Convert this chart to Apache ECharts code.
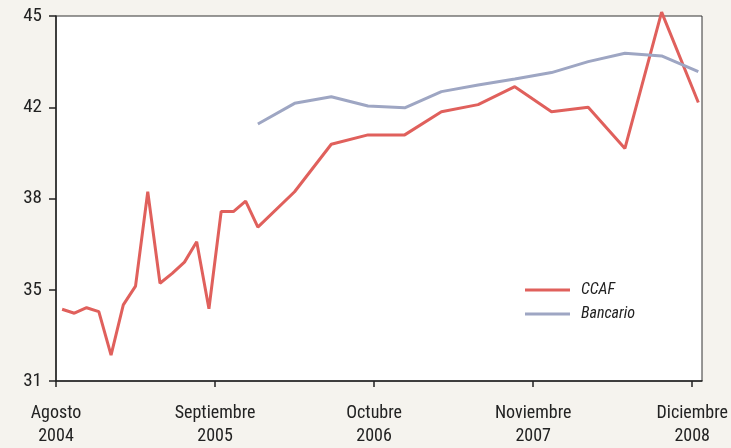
<!DOCTYPE html>
<html lang="es">
<head>
    <meta charset="UTF-8">
    <title>CCAF vs Bancario</title>
    <script src="https://cdn.jsdelivr.net/npm/echarts@6/dist/echarts.min.js"></script>
    <style>
        html, body { margin: 0; padding: 0; background: #f5f3ee; }
    </style>
</head>
<body>
<div id="main" style="width: 731px;height:448px;"></div>
<script>
    // meses contados desde agosto 2004 (punto a mitad de mes)
    var tickMonths = [0, 13, 26, 39, 52];
    var tickLabels = ['Agosto\n2004', 'Septiembre\n2005', 'Octubre\n2006', 'Noviembre\n2007', 'Diciembre\n2008'];

    var ccafMonths = [0.5, 1.5, 2.5, 3.5, 4.5, 5.5, 6.5, 7.5, 8.5, 9.5, 10.5, 11.5, 12.5, 13.5, 14.5, 15.5, 16.5,
        19.5, 22.5, 25.5, 28.5, 31.5, 34.5, 37.5, 40.5, 43.5, 46.5, 49.5, 52.5];
    var ccafValues = [33.75, 33.6, 33.81, 33.66, 31.99, 33.92, 34.64, 38.26, 34.75, 35.13, 35.56, 36.34, 33.77, 37.5, 37.5, 37.9, 36.9,
        38.26, 40.08, 40.44, 40.44, 41.33, 41.6, 42.29, 41.33, 41.5, 39.92, 45.15, 41.68];

    var bancarioMonths = [16.5, 19.5, 22.5, 25.5, 28.5, 31.5, 34.5, 37.5, 40.5, 43.5, 46.5, 49.5, 52.5];
    var bancarioValues = [40.86, 41.65, 41.9, 41.55, 41.48, 42.1, 42.35, 42.58, 42.83, 43.25, 43.57, 43.47, 42.87];

    function pairs(xs, ys) {
        var out = [];
        for (var i = 0; i < xs.length; i++) {
            out.push([xs[i], ys[i]]);
        }
        return out;
    }

    var myChart = echarts.init(document.getElementById('main'));
    var font = '"Liberation Sans Narrow", "Roboto Condensed", "Open Sans", sans-serif';

    myChart.setOption({
        animation: false,
        backgroundColor: '#f5f3ee',
        grid: {
            left: 56,
            right: 29,
            top: 16,
            bottom: 67,
            show: true,
            backgroundColor: '#ffffff',
            borderColor: '#333',
            borderWidth: 1
        },
        legend: {
            orient: 'vertical',
            left: 520,
            top: 277,
            itemWidth: 45,
            itemHeight: 3,
            itemGap: 8,
            icon: 'rect',
            textStyle: {
                fontFamily: font,
                fontStyle: 'italic',
                fontSize: 16,
                color: '#222',
                padding: [0, 0, 0, 6]
            },
            data: ['CCAF', 'Bancario']
        },
        xAxis: {
            type: 'value',
            min: 0,
            max: 52.8,
            splitLine: { show: false },
            axisLine: { lineStyle: { color: '#222', width: 1.5 } },
            axisTick: {
                show: true,
                length: 6,
                customValues: tickMonths,
                lineStyle: { color: '#222', width: 1.5 }
            },
            axisLabel: {
                customValues: tickMonths,
                margin: 21,
                fontFamily: font,
                fontSize: 18,
                lineHeight: 23,
                color: '#222',
                formatter: function (v) {
                    var i = tickMonths.indexOf(v);
                    return i >= 0 ? tickLabels[i] : '';
                }
            }
        },
        yAxis: {
            type: 'value',
            min: 31,
            max: 45,
            interval: 3.5,
            splitLine: { show: false },
            axisLine: { show: true, lineStyle: { color: '#222', width: 1.5 } },
            axisTick: { show: true, length: 7, lineStyle: { color: '#222', width: 1.5 } },
            axisLabel: {
                margin: 14,
                fontFamily: font,
                fontSize: 19,
                color: '#222',
                formatter: function (v) {
                    return String(Math.round(v));
                }
            }
        },
        series: [
            {
                name: 'CCAF',
                type: 'line',
                data: pairs(ccafMonths, ccafValues),
                showSymbol: false,
                clip: false,
                color: '#e0605c',
                lineStyle: { width: 3, color: '#e0605c' }
            },
            {
                name: 'Bancario',
                type: 'line',
                data: pairs(bancarioMonths, bancarioValues),
                showSymbol: false,
                color: '#9ea6c3',
                lineStyle: { width: 3, color: '#9ea6c3' }
            }
        ]
    });
</script>
</body>
</html>
